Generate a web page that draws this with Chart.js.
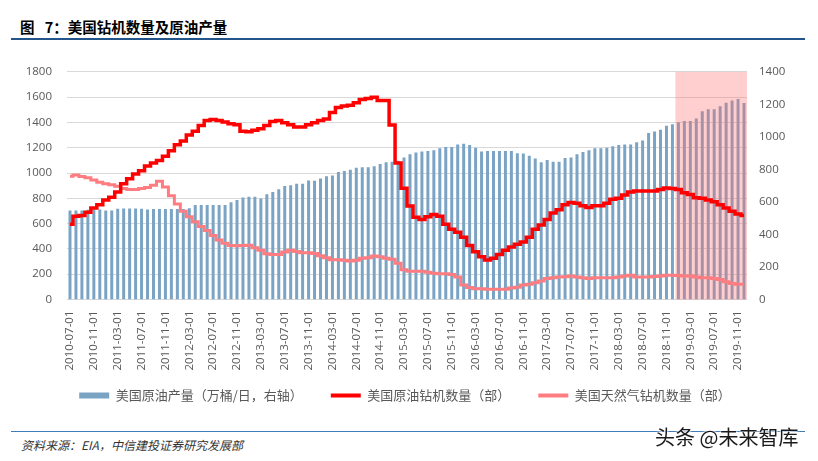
<!DOCTYPE html>
<html>
<head>
<meta charset="utf-8">
<script src="https://cdn.jsdelivr.net/npm/chart.js@4.4.0/dist/chart.umd.min.js"></script>
<style>
html,body{margin:0;padding:0;background:#fff;width:818px;height:461px;overflow:hidden;font-family:"Noto Sans CJK SC","Noto Sans",sans-serif;}
#title{position:absolute;left:20px;top:17px;font-size:14.5px;font-weight:bold;color:#000;line-height:20px;white-space:nowrap;word-spacing:7px;}
#rule1{position:absolute;left:11px;top:38px;width:794px;height:2px;background:#24558a;}
#wrap{position:absolute;left:0;top:50px;width:818px;height:374px;}
#rule2{position:absolute;left:11px;top:431px;width:794px;height:1px;background:#3f7cb8;}
#src{position:absolute;left:21px;top:437px;font-size:12px;font-style:italic;color:#333;line-height:16px;white-space:nowrap;}
#wm{position:absolute;left:655px;top:424px;font-size:20px;color:#1a1a1a;line-height:26px;white-space:nowrap;text-shadow:0 0 2px #fff,0 0 2px #fff,0 0 3px #fff;}
</style>
</head>
<body>
<div id="title">图 7：美国钻机数量及原油产量</div>
<div id="rule1"></div>
<div id="wrap"><canvas id="c" width="818" height="374"></canvas></div>
<div id="rule2"></div>
<div id="src">资料来源：EIA，中信建投证券研究发展部</div>
<div id="wm">头条 @未来智库</div>
<script>
const categories = [
"2010-07-01","2010-08-01","2010-09-01","2010-10-01","2010-11-01","2010-12-01",
"2011-01-01","2011-02-01","2011-03-01","2011-04-01","2011-05-01","2011-06-01",
"2011-07-01","2011-08-01","2011-09-01","2011-10-01","2011-11-01","2011-12-01",
"2012-01-01","2012-02-01","2012-03-01","2012-04-01","2012-05-01","2012-06-01",
"2012-07-01","2012-08-01","2012-09-01","2012-10-01","2012-11-01","2012-12-01",
"2013-01-01","2013-02-01","2013-03-01","2013-04-01","2013-05-01","2013-06-01",
"2013-07-01","2013-08-01","2013-09-01","2013-10-01","2013-11-01","2013-12-01",
"2014-01-01","2014-02-01","2014-03-01","2014-04-01","2014-05-01","2014-06-01",
"2014-07-01","2014-08-01","2014-09-01","2014-10-01","2014-11-01","2014-12-01",
"2015-01-01","2015-02-01","2015-03-01","2015-04-01","2015-05-01","2015-06-01",
"2015-07-01","2015-08-01","2015-09-01","2015-10-01","2015-11-01","2015-12-01",
"2016-01-01","2016-02-01","2016-03-01","2016-04-01","2016-05-01","2016-06-01",
"2016-07-01","2016-08-01","2016-09-01","2016-10-01","2016-11-01","2016-12-01",
"2017-01-01","2017-02-01","2017-03-01","2017-04-01","2017-05-01","2017-06-01",
"2017-07-01","2017-08-01","2017-09-01","2017-10-01","2017-11-01","2017-12-01",
"2018-01-01","2018-02-01","2018-03-01","2018-04-01","2018-05-01","2018-06-01",
"2018-07-01","2018-08-01","2018-09-01","2018-10-01","2018-11-01","2018-12-01",
"2019-01-01","2019-02-01","2019-03-01","2019-04-01","2019-05-01","2019-06-01",
"2019-07-01","2019-08-01","2019-09-01","2019-10-01","2019-11-01","2019-12-01"
];

// 美国原油产量（万桶/日，右轴）
const oilProduction = [
548,548,548,552,554,554,
548,548,558,560,560,560,
558,554,556,556,556,556,
556,556,562,582,582,582,
582,582,582,598,612,628,
632,632,622,648,662,678,
698,702,712,712,732,730,
744,758,762,784,790,798,
810,814,814,820,834,844,
848,854,874,894,904,910,
914,918,930,938,938,954,
958,950,934,910,914,914,
914,914,914,900,898,884,
868,844,858,848,848,870,
874,894,908,918,930,930,
934,942,950,954,954,968,
978,1024,1034,1044,1068,1078,
1090,1098,1098,1114,1158,1170,
1170,1188,1210,1224,1234,1208
];

// 美国原油钻机数量（部）
const oilRigs = [
595,659,664,690,723,749,
787,808,851,915,954,992,
1018,1056,1080,1100,1133,1177,
1223,1254,1300,1331,1377,1415,
1423,1415,1403,1390,1382,1331,
1326,1338,1351,1377,1408,1415,
1397,1382,1364,1364,1382,1397,
1415,1428,1479,1518,1531,1536,
1556,1582,1590,1600,1574,1574,
1380,1080,880,740,650,633,
654,672,659,595,556,531,
492,428,377,338,313,326,
356,390,415,437,454,492,
556,590,633,685,710,749,
767,762,741,728,741,741,
762,792,800,826,851,859,
859,859,859,869,882,877,
869,844,831,805,800,787,
774,749,723,697,677,664
];

// 美国天然气钻机数量（部）
const gasRigs = [
974,985,972,962,946,928,
915,908,895,877,869,869,
877,885,903,936,890,820,
755,698,655,615,577,545,
507,470,445,427,425,428,
430,410,390,362,356,356,
375,390,380,369,369,364,
346,331,315,315,310,305,
310,326,331,344,338,326,
318,287,236,223,223,223,
215,208,203,203,197,177,
115,95,85,85,82,82,
82,82,90,97,115,121,
133,146,167,172,177,180,
185,177,172,167,172,172,
172,172,177,185,192,177,
177,177,182,185,192,192,
190,185,185,177,172,172,
167,159,141,126,121,121
];

const seriesNames = ["美国原油产量（万桶/日，右轴）","美国原油钻机数量（部）","美国天然气钻机数量（部）"];
const shadeStart = "2019-01-01";
const labelEvery = 4;

const barColor = "#7BA3C4";
const oilColor = "#FF0000";
const gasColor = "#FF7C80";

const shadePlugin = {
  id: "shade",
  afterDatasetDraw(chart, args) {
    if (args.index !== 0) return;
    const xs = chart.scales.x, a = chart.chartArea, ctx = chart.ctx;
    const s = categories.indexOf(shadeStart);
    const left = (xs.getPixelForValue(s - 1) + xs.getPixelForValue(s)) / 2;
    ctx.save();
    ctx.fillStyle = "rgba(255,110,110,0.33)";
    ctx.fillRect(left, a.top, a.right - left, a.bottom - a.top);
    ctx.restore();
  }
};

// move the legend up so it sits closer to the rotated date labels
const legendShift = {
  id: "legendShift",
  afterLayout(chart) {
    const lg = chart.legend;
    if (lg) { lg.top -= 11.5; lg.bottom -= 11.5; }
  }
};

const tickFont = {family: '"Open Sans", "Liberation Sans", sans-serif', size: 11.5};

new Chart(document.getElementById("c"), {
  data: {
    labels: categories,
    datasets: [
      {type: "bar", label: seriesNames[0], data: oilProduction, yAxisID: "y1", backgroundColor: barColor,
       borderWidth: 0, barPercentage: 0.5, categoryPercentage: 1.0, order: 2},
      {type: "line", label: seriesNames[1], data: oilRigs, yAxisID: "y", borderColor: oilColor, backgroundColor: oilColor,
       borderWidth: 3.5, pointRadius: 0, stepped: "middle", fill: false, order: 0},
      {type: "line", label: seriesNames[2], data: gasRigs, yAxisID: "y", borderColor: gasColor, backgroundColor: gasColor,
       borderWidth: 3, pointRadius: 0, stepped: "middle", fill: false, order: 1}
    ]
  },
  options: {
    responsive: false,
    animation: false,
    layout: {padding: {left: 0, right: 8, top: 15, bottom: 0.5}},
    plugins: {
      tooltip: {enabled: false},
      legend: {
        position: "bottom",
        labels: {
          usePointStyle: true, pointStyleWidth: 30, boxHeight: 6, padding: 28,
          color: "#595959",
          font: {family: '"Noto Sans CJK SC", sans-serif', size: 13},
          generateLabels: (chart) => chart.data.datasets.map((ds, i) => ({
            text: ds.label, datasetIndex: i, hidden: false,
            fillStyle: ds.type === "bar" ? barColor : ds.borderColor,
            strokeStyle: ds.type === "bar" ? barColor : ds.borderColor,
            lineWidth: ds.type === "bar" ? 0 : 4,
            pointStyle: ds.type === "bar" ? "rect" : "line",
            fontColor: "#595959"
          }))
        }
      }
    },
    scales: {
      x: {
        grid: {display: false, drawTicks: false},
        border: {display: false},
        ticks: {autoSkip: false, maxRotation: 90, minRotation: 90, padding: 11, color: "#595959", font: tickFont,
                callback: (v, i) => (i % labelEvery === 0 ? categories[i] : "")},
        afterFit: (s) => { s.height = 73; }
      },
      y: {
        position: "left", min: 0, max: 1800,
        ticks: {stepSize: 200, padding: 15, color: "#595959", font: tickFont, callback: (v) => String(v)},
        grid: {color: "#D9D9D9", lineWidth: 1, drawTicks: false},
        border: {display: false},
        afterFit: (s) => { s.width = 67; }
      },
      y1: {
        position: "right", min: 0, max: 1400,
        ticks: {stepSize: 200, padding: 12, color: "#595959", font: tickFont, callback: (v) => String(v)},
        grid: {display: false, drawTicks: false},
        border: {display: false},
        afterFit: (s) => { s.width = 63; }
      }
    }
  },
  plugins: [shadePlugin, legendShift]
});
</script>
</body>
</html>
